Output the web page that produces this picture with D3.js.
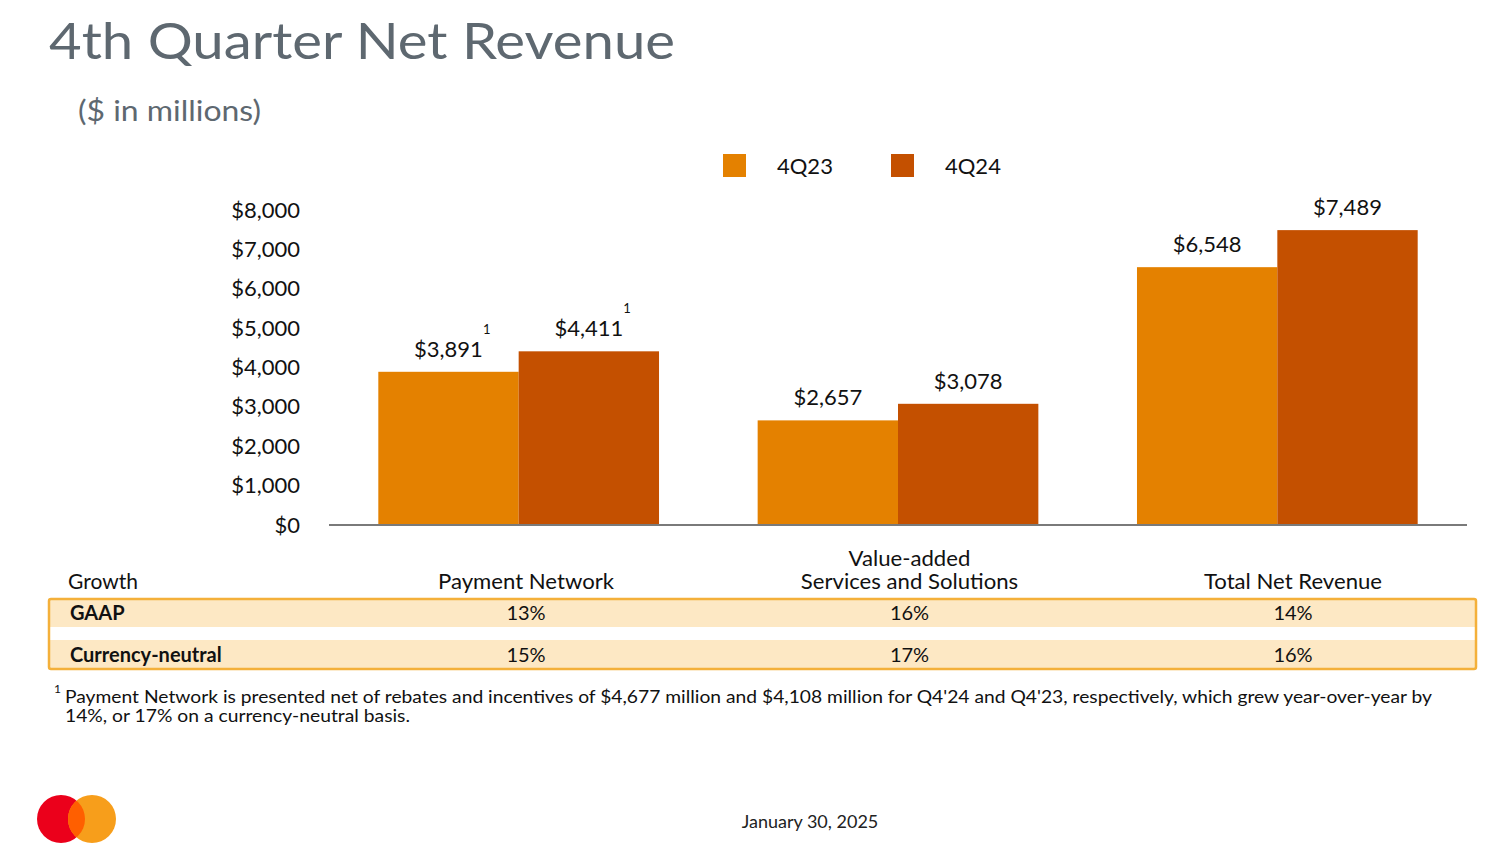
<!DOCTYPE html>
<html><head><meta charset="utf-8">
<script src="https://cdn.jsdelivr.net/npm/d3@7"></script>
<style>
html,body{margin:0;padding:0;background:#fff;}
svg{display:block;font-family:"Lato","Noto Sans",sans-serif;}
</style></head>
<body>
<svg id="chart" width="1486" height="856"></svg>
<script>
// ---- data ----
const categories = ["Payment Network", "Value-added Services and Solutions", "Total Net Revenue"];
const seriesNames = ["4Q23", "4Q24"];
const values4Q23 = [3891, 2657, 6548];
const values4Q24 = [4411, 3078, 7489];
const footnoteFlags = [true, false, false];
const yTicks = [0, 1000, 2000, 3000, 4000, 5000, 6000, 7000, 8000];
const growthRows = ["GAAP", "Currency-neutral"];
const growthGAAP = ["13%", "16%", "14%"];
const growthCN = ["15%", "17%", "16%"];
const headerLines = [["Payment Network"], ["Value-added", "Services and Solutions"], ["Total Net Revenue"]];

const colors = ["#E48100", "#C45000"];
const svg = d3.select("#chart");

// title
svg.append("text").attr("x", 49).attr("y", 59).attr("font-size", 51).attr("fill", "#5E6870")
  .attr("textLength", 626).attr("lengthAdjust", "spacingAndGlyphs").text("4th Quarter Net Revenue");
svg.append("text").attr("x", 78).attr("y", 121).attr("font-size", 28).attr("fill", "#5E6870")
  .attr("textLength", 183).attr("lengthAdjust", "spacingAndGlyphs").text("($ in millions)");

// scales
const x0 = d3.scaleBand().domain(categories).range([329, 1467]).paddingInner(0.26).paddingOuter(0.13);
const x1 = d3.scaleBand().domain(seriesNames).range([0, x0.bandwidth()]).padding(0);
const y = d3.scaleLinear().domain([0, 8000]).range([525, 210]);
const xt = d3.scalePoint().domain(categories).range([526, 1293]);

// y axis labels
const yAxis = d3.axisLeft(y).tickValues(yTicks).tickSize(0).tickPadding(0)
  .tickFormat(d => "$" + d3.format(",")(d));
const gy = svg.append("g").attr("transform", "translate(300,0)").call(yAxis);
gy.select(".domain").remove();
gy.selectAll("text").attr("font-size", 22).attr("fill", "#111").attr("font-family", "Lato, 'Noto Sans', sans-serif");

// bars
const data = categories.map((c, i) => ({cat: c, vals: [values4Q23[i], values4Q24[i]], fn: footnoteFlags[i]}));
const groups = svg.append("g").selectAll("g").data(data).join("g")
  .attr("transform", d => `translate(${x0(d.cat)},0)`);
groups.selectAll("rect").data(d => d.vals.map((v, j) => ({s: seriesNames[j], v, j}))).join("rect")
  .attr("x", d => x1(d.s)).attr("width", x1.bandwidth())
  .attr("y", d => y(d.v)).attr("height", d => y(0) - y(d.v))
  .attr("fill", d => colors[d.j]);
groups.each(function(d) {
  const g = d3.select(this);
  d.vals.forEach((v, j) => {
    const cx = x1(seriesNames[j]) + x1.bandwidth() / 2;
    const t = g.append("text").attr("x", cx).attr("y", y(v) - 15).attr("text-anchor", "middle")
      .attr("font-size", 22).attr("fill", "#111").text("$" + d3.format(",")(v));
    if (d.fn) {
      const w = t.node().getComputedTextLength();
      g.append("text").attr("x", cx + w / 2 + 0).attr("y", y(v) - 38)
        .attr("font-size", 13).attr("fill", "#111").text("1");
    }
  });
});

// baseline
svg.append("line").attr("x1", 329).attr("x2", 1467).attr("y1", y(0)).attr("y2", y(0))
  .attr("stroke", "#7a7a7a").attr("stroke-width", 2);

// legend
const legX = [723, 891];
seriesNames.forEach((s, i) => {
  svg.append("rect").attr("x", legX[i]).attr("y", 154).attr("width", 23).attr("height", 23).attr("fill", colors[i]);
  svg.append("text").attr("x", legX[i] + 54).attr("y", 174).attr("font-size", 22).attr("fill", "#111").text(s);
});

// table header
svg.append("text").attr("x", 68).attr("y", 589).attr("font-size", 21).attr("fill", "#111").text("Growth");
categories.forEach((c, i) => {
  const cx = xt(c);
  const lines = headerLines[i];
  lines.forEach((ln, k) => {
    const t = svg.append("text").attr("x", cx).attr("y", 589 - (lines.length - 1 - k) * 23)
      .attr("text-anchor", "middle").attr("font-size", 20.5).attr("fill", "#111").text(ln);
    const w = t.node().getComputedTextLength();
    t.attr("textLength", w * 1.08).attr("lengthAdjust", "spacingAndGlyphs");
  });
});

// table body
svg.append("rect").attr("x", 49).attr("y", 599).attr("width", 1427).attr("height", 70)
  .attr("fill", "#FDE8C4").attr("stroke", "#F4B03A").attr("stroke-width", 2.5).attr("rx", 2);
svg.append("rect").attr("x", 50.5).attr("y", 627).attr("width", 1424).attr("height", 13).attr("fill", "#fff");
const rowY = [620, 662];
[growthGAAP, growthCN].forEach((row, r) => {
  svg.append("text").attr("x", 70).attr("y", rowY[r]).attr("font-size", 20).attr("font-weight", "bold")
    .attr("fill", "#111").text(growthRows[r]);
  row.forEach((v, i) => {
    svg.append("text").attr("x", xt(categories[i])).attr("y", rowY[r])
      .attr("text-anchor", "middle").attr("font-size", 20).attr("fill", "#111").text(v);
  });
});

// footnote
svg.append("text").attr("x", 54).attr("y", 693).attr("font-size", 12).attr("fill", "#111").text("1");
svg.append("text").attr("x", 65).attr("y", 703).attr("font-size", 16.5).attr("fill", "#111")
  .attr("textLength", 1367).attr("lengthAdjust", "spacingAndGlyphs")
  .text("Payment Network is presented net of rebates and incentives of $4,677 million and $4,108 million for Q4'24 and Q4'23, respectively, which grew year-over-year by");
svg.append("text").attr("x", 65).attr("y", 722).attr("font-size", 16.5).attr("fill", "#111")
  .attr("textLength", 345).attr("lengthAdjust", "spacingAndGlyphs")
  .text("14%, or 17% on a currency-neutral basis.");

// date
svg.append("text").attr("x", 810).attr("y", 828).attr("text-anchor", "middle").attr("font-size", 18)
  .attr("fill", "#222").text("January 30, 2025");

// logo
const logo = svg.append("g");
logo.append("circle").attr("cx", 61).attr("cy", 819).attr("r", 24).attr("fill", "#EB001B");
logo.append("circle").attr("cx", 92).attr("cy", 819).attr("r", 24).attr("fill", "#F79E1B");
logo.append("clipPath").attr("id", "lc").append("circle").attr("cx", 61).attr("cy", 819).attr("r", 24);
logo.append("circle").attr("cx", 92).attr("cy", 819).attr("r", 24).attr("fill", "#FF5F00").attr("clip-path", "url(#lc)");
</script>
</body></html>
